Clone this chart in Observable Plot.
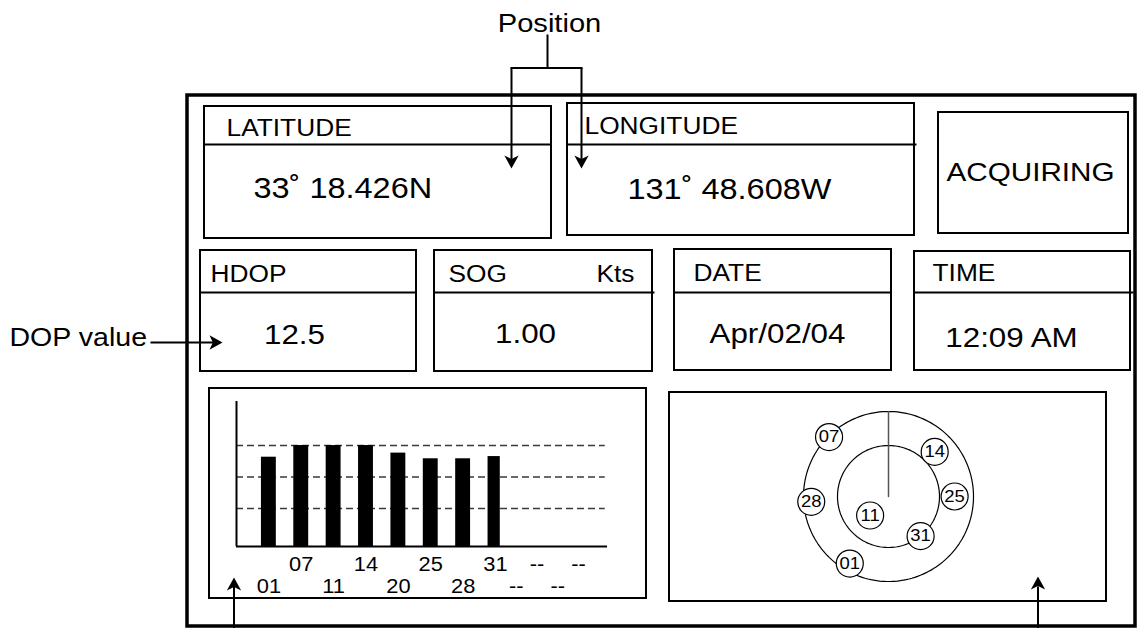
<!DOCTYPE html>
<html><head><meta charset="utf-8">
<script src="https://cdn.jsdelivr.net/npm/d3@7"></script>
<script src="https://cdn.jsdelivr.net/npm/@observablehq/plot@0.6"></script>
<style>
html,body{margin:0;padding:0;background:#fff;}
#chart{position:relative;width:1138px;height:628px;overflow:hidden;}
#chart svg{position:absolute;left:0;top:0;}
</style></head><body><div id="chart"></div>
<script>
// ---------------- data ----------------
const fieldLabels = ["LATITUDE", "LONGITUDE", "HDOP", "SOG", "DATE", "TIME"];
const fieldValues = ["33˚ 18.426N", "131˚ 48.608W", "12.5", "1.00", "Apr/02/04", "12:09 AM"];
const sogUnit = "Kts";
const statusText = "ACQUIRING";
const annotationLabels = ["Position", "DOP value"];
const channelLabels = ["01", "07", "11", "14", "20", "25", "28", "31", "--", "--", "--", "--"];
const signalLevels = [36.3, 40, 40, 40, 37.6, 35.8, 35.8, 36.5];
const signalGrid = [20, 30, 40];
const satIds = ["07", "14", "25", "31", "01", "28", "11"];
const satAzimuth = [315, 46, 90, 141, 210, 266, 224];
const satElevation = [1, 22, 20, 36, 8, 8, 62];
const skyRings = [0, 36];

// ---------------- layout (positions / styles) ----------------
const W = 1138, H = 628;
const FONT = "'Liberation Sans', Arial, Helvetica, sans-serif";
const STRETCH = 1.12;
const frameBox = {x1: 187, y1: 95, x2: 1135, y2: 626};
const fieldBoxes = [
  {x1: 204, y1: 106, x2: 551, y2: 238, div: 144, divEnd: 551, hx: 226, hy: 135, vx: 253, vy: 197, anchor: "start"},
  {x1: 567, y1: 103, x2: 914, y2: 235, div: 144, divEnd: 916, hx: 584, hy: 133, vx: 627, vy: 198, anchor: "start"},
  {x1: 200, y1: 250, x2: 416, y2: 371, div: 292, divEnd: 416, hx: 210, hy: 281, vx: 294, vy: 343, anchor: "middle"},
  {x1: 434, y1: 250, x2: 652, y2: 371, div: 292, divEnd: 654, hx: 448, hy: 281, vx: 525, vy: 342, anchor: "middle"},
  {x1: 674, y1: 249, x2: 891, y2: 370, div: 292, divEnd: 891, hx: 693, hy: 280, vx: 777, vy: 342, anchor: "middle"},
  {x1: 914, y1: 251, x2: 1130, y2: 370, div: 292, divEnd: 1133, hx: 932, hy: 280, vx: 1011, vy: 346, anchor: "middle"}
];
const plainBoxes = [
  {x1: 938, y1: 112, x2: 1128, y2: 233},   // status
  {x1: 209, y1: 388, x2: 646, y2: 598},    // signal bars
  {x1: 669, y1: 392, x2: 1106, y2: 601}    // sky view
];
const fields = fieldLabels.map((label, i) => ({label, value: fieldValues[i], ...fieldBoxes[i]}));

const leaderLines = [
  {x1: 547, y1: 34, x2: 547, y2: 67.5}, {x1: 510, y1: 67.5, x2: 582, y2: 67.5},
  {x1: 511, y1: 67.5, x2: 511, y2: 160}, {x1: 581, y1: 67.5, x2: 581, y2: 160},
  {x1: 150, y1: 342, x2: 214, y2: 342},
  {x1: 233.5, y1: 628, x2: 233.5, y2: 586}, {x1: 1037.5, y1: 628, x2: 1037.5, y2: 586}
];
const leaderHeads = [
  {x: 511, y: 168, rot: 180}, {x: 581, y: 168, rot: 180}, {x: 222, y: 342, rot: 90},
  {x: 233.5, y: 577, rot: 0}, {x: 1037.5, y: 576, rot: 0}
];
const annotationPos = [{x: 549, y: 31, anchor: "middle"}, {x: 9, y: 345, anchor: "start"}];
const annotations = annotationLabels.map((t, i) => ({t, ...annotationPos[i]}));

const arrowHead = {draw(ctx, size) {
  const r = Math.sqrt(size / Math.PI);
  ctx.moveTo(0, 0); ctx.lineTo(0.55 * r, r); ctx.lineTo(0, 0.74 * r); ctx.lineTo(-0.55 * r, r); ctx.closePath();
}};

const baseStyle = {fontFamily: FONT, background: "transparent", color: "black", overflow: "visible"};

// ---------------- layout plot ----------------
const layoutPlot = Plot.plot({
  width: W, height: H, margin: 0, style: baseStyle,
  x: {type: "identity", axis: null}, y: {type: "identity", axis: null},
  marks: [
    Plot.rect([frameBox], {x1: "x1", y1: "y1", x2: "x2", y2: "y2", fill: "none", stroke: "black", strokeWidth: 3.5}),
    Plot.rect(fields, {x1: "x1", y1: "y1", x2: "x2", y2: "y2", fill: "none", stroke: "black", strokeWidth: 2}),
    Plot.rect(plainBoxes, {x1: "x1", y1: "y1", x2: "x2", y2: "y2", fill: "none", stroke: "black", strokeWidth: 2}),
    Plot.link(fields, {x1: "x1", x2: "divEnd", y1: "div", y2: "div", stroke: "black", strokeWidth: 2}),
    Plot.text(fields, {x: "hx", y: "hy", text: "label", textAnchor: "start", lineAnchor: "bottom", fontSize: 23.5}),
    Plot.text(fields, {filter: d => d.anchor === "start", x: "vx", y: "vy", text: "value", textAnchor: "start", lineAnchor: "bottom", fontSize: 29}),
    Plot.text(fields, {filter: d => d.anchor === "middle", x: "vx", y: "vy", text: "value", textAnchor: "middle", lineAnchor: "bottom", fontSize: 28}),
    Plot.text([sogUnit], {x: 634, y: 281, text: d => d, textAnchor: "end", lineAnchor: "bottom", fontSize: 23.5}),
    Plot.text([statusText], {x: 1030, y: 180, text: d => d, textAnchor: "middle", lineAnchor: "bottom", fontSize: 26.5}),
    Plot.link(leaderLines, {x1: "x1", y1: "y1", x2: "x2", y2: "y2", stroke: "black", strokeWidth: 2}),
    Plot.dot(leaderHeads, {x: "x", y: "y", rotate: "rot", r: 13, symbol: arrowHead, fill: "black", stroke: "none"}),
    Plot.text(annotations.filter(d => d.anchor === "middle"), {x: "x", y: "y", text: "t", textAnchor: "middle", lineAnchor: "bottom", fontSize: 26}),
    Plot.text(annotations.filter(d => d.anchor === "start"), {x: "x", y: "y", text: "t", textAnchor: "start", lineAnchor: "bottom", fontSize: 25.5})
  ]
});

// ---------------- signal bar plot ----------------
const channels = channelLabels.map((label, i) => ({ch: i + 1, label, snr: signalLevels[i]}));
const bars = channels.filter(d => d.snr != null);
const barPlot = Plot.plot({
  width: W, height: H, margin: 0, style: baseStyle,
  x: {type: "linear", domain: [0, 8, 12, 13.3], range: [236, 495, 578, 607], axis: null},
  y: {type: "linear", domain: [0, 20, 54], range: [546, 508, 401], axis: null},
  marks: [
    Plot.ruleY(signalGrid, {y: d => d, x1: 0, x2: 13.2, stroke: "#3a3a3a", strokeWidth: 1.4, strokeDasharray: "7,4"}),
    Plot.rect(bars, {x1: d => d.ch - 0.23, x2: d => d.ch + 0.23, y1: 0, y2: "snr", fill: "black"}),
    Plot.ruleX([0], {y1: 0, y2: 54, stroke: "black", strokeWidth: 2}),
    Plot.ruleY([0], {x1: 0, x2: 13.3, stroke: "black", strokeWidth: 2}),
    Plot.text(channels.filter(d => d.ch % 2 === 0), {x: "ch", y: 0, dy: 24, text: "label", lineAnchor: "bottom", fontSize: 19.5}),
    Plot.text(channels.filter(d => d.ch % 2 === 1), {x: "ch", y: 0, dy: 46, text: "label", lineAnchor: "bottom", fontSize: 19.5})
  ]
});

// ---------------- sky view plot ----------------
const sats = satIds.map((id, i) => ({id, az: satAzimuth[i], el: satElevation[i]}));
const skyCircle = el => d3.geoCircle().center([0, 90]).radius(90 - el)();
const skyPlot = Plot.plot({
  width: W, height: H, style: baseStyle,
  marginLeft: 803, marginRight: W - 973, marginTop: 411, marginBottom: H - 581,
  projection: {type: "azimuthal-equidistant", rotate: [0, -90], domain: skyCircle(0)},
  marks: [
    Plot.geo(skyRings.map(skyCircle), {fill: "none", stroke: "black", strokeWidth: 1.2}),
    Plot.line([[180, 90], [180, 0]], {stroke: "#555", strokeWidth: 1.5}),
    Plot.dot(sats, {x: d => 180 - d.az, y: "el", r: 13.5, fill: "white", stroke: "black", strokeWidth: 1.2}),
    Plot.text(sats, {x: d => 180 - d.az, y: "el", text: "id", fontSize: 16.5, lineAnchor: "middle"})
  ]
});

const root = document.getElementById("chart");
for (const p of [layoutPlot, barPlot, skyPlot]) {
  p.querySelectorAll("text").forEach(t => {
    const tr = t.getAttribute("transform") || "";
    t.setAttribute("transform", tr + ` scale(${STRETCH},1)`);
  });
  root.appendChild(p);
}
</script></body></html>
